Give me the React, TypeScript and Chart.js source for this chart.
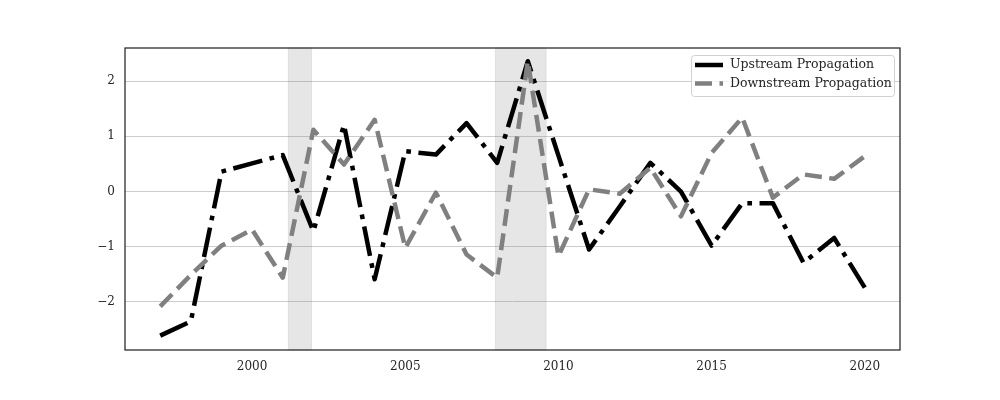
import React, { useEffect, useRef } from "react";
import { Chart, registerables } from "chart.js";

Chart.register(...registerables);

const years = [1997, 1998, 1999, 2000, 2001, 2002, 2003, 2004, 2005, 2006, 2007, 2008, 2009, 2010, 2011, 2012, 2013, 2014, 2015, 2016, 2017, 2018, 2019, 2020];
const upstream = [-2.61, -2.35, 0.36, 0.51, 0.66, -0.72, 1.21, -1.59, 0.73, 0.67, 1.24, 0.52, 2.36, 0.65, -1.05, -0.27, 0.52, 0.0, -0.98, -0.21, -0.21, -1.29, -0.84, -1.74];
const downstream = [-2.08, -1.51, -0.98, -0.69, -1.56, 1.12, 0.49, 1.30, -1.02, -0.02, -1.14, -1.56, 2.36, -1.17, 0.04, -0.04, 0.43, -0.45, 0.70, 1.34, -0.11, 0.31, 0.23, 0.64];
const seriesLabels = ["Upstream Propagation", "Downstream Propagation"];
const recessions = [
  [2001.18, 2001.94],
  [2007.94, 2009.6],
];
const xTicks = [2000, 2005, 2010, 2015, 2020];
const yTicks = [-2, -1, 0, 1, 2];

const FONT = "'DejaVu Serif', serif";
const TEXT = "#262626";
const UP_DASH = [30, 7.5, 4.7, 7.5];
const DOWN_DASH = [17, 7.5];

const shadePlugin = {
  id: "shade",
  beforeDatasetsDraw(chart: any) {
    const { ctx, chartArea, scales } = chart;
    ctx.save();
    for (const [a, b] of recessions) {
      const x0 = scales.x.getPixelForValue(a);
      const x1 = scales.x.getPixelForValue(b);
      ctx.fillStyle = "rgba(128,128,128,0.2)";
      ctx.fillRect(x0, chartArea.top, x1 - x0, chartArea.bottom - chartArea.top);
      ctx.strokeStyle = "rgba(128,128,128,0.15)";
      ctx.lineWidth = 1;
      ctx.strokeRect(x0, chartArea.top, x1 - x0, chartArea.bottom - chartArea.top);
    }
    ctx.restore();
  },
};

const framePlugin = {
  id: "frame",
  afterDraw(chart: any) {
    const { ctx, chartArea } = chart;
    ctx.save();
    ctx.strokeStyle = TEXT;
    ctx.lineWidth = 1.25;
    ctx.strokeRect(chartArea.left, chartArea.top, chartArea.right - chartArea.left, chartArea.bottom - chartArea.top);

    // legend
    const bx = 691, by = 55, bw = 203, bh = 41;
    ctx.fillStyle = "rgba(255,255,255,0.8)";
    ctx.strokeStyle = "rgba(204,204,204,0.9)";
    ctx.lineWidth = 1;
    ctx.beginPath();
    (ctx as any).roundRect(bx + 0.5, by + 0.5, bw, bh, 3);
    ctx.fill();
    ctx.stroke();

    const rows = [
      { y: 65, color: "#000000", dash: UP_DASH, label: seriesLabels[0] },
      { y: 83.5, color: "#808080", dash: DOWN_DASH, label: seriesLabels[1] },
    ];
    for (const r of rows) {
      ctx.beginPath();
      ctx.setLineDash(r.dash);
      ctx.lineCap = "butt";
      ctx.lineWidth = 4.5;
      ctx.strokeStyle = r.color;
      ctx.moveTo(695, r.y);
      ctx.lineTo(723, r.y);
      ctx.stroke();
      ctx.setLineDash([]);
      ctx.fillStyle = TEXT;
      ctx.font = `12.5px ${FONT}`;
      ctx.textBaseline = "middle";
      ctx.textAlign = "left";
      ctx.fillText(r.label, 730, r.y);
    }
    ctx.restore();
  },
};

export default function App() {
  const ref = useRef<HTMLCanvasElement>(null);
  useEffect(() => {
    if (!ref.current) return;
    const chart = new Chart(ref.current, {
      type: "line",
      data: {
        datasets: [
          {
            label: seriesLabels[0],
            data: years.map((y, i) => ({ x: y, y: upstream[i] })),
            borderColor: "#000000",
            borderWidth: 4.5,
            borderDash: UP_DASH,
            borderCapStyle: "butt",
            borderJoinStyle: "round",
            pointRadius: 0,
            fill: false,
            tension: 0,
            order: 1,
          },
          {
            label: seriesLabels[1],
            data: years.map((y, i) => ({ x: y, y: downstream[i] })),
            borderColor: "#808080",
            borderWidth: 4.5,
            borderDash: DOWN_DASH,
            borderCapStyle: "butt",
            borderJoinStyle: "round",
            pointRadius: 0,
            fill: false,
            tension: 0,
            order: 0,
          },
        ],
      },
      options: {
        responsive: false,
        animation: false,
        devicePixelRatio: 1,
        layout: { padding: { left: 0, top: 48, right: 100, bottom: 0 } },
        plugins: { legend: { display: false }, tooltip: { enabled: false } },
        scales: {
          x: {
            type: "linear",
            min: 1995.85,
            max: 2021.15,
            grid: { display: false, drawTicks: false },
            border: { display: false },
            afterBuildTicks: (s: any) => {
              s.ticks = xTicks.map((v) => ({ value: v }));
            },
            afterFit: (s: any) => {
              s.height = 50;
            },
            ticks: {
              padding: 10,
              maxRotation: 0,
              color: TEXT,
              font: { family: FONT, size: 12 },
              callback: (v: any) => String(v),
            },
          },
          y: {
            type: "linear",
            min: -2.87,
            max: 2.6,
            grid: { display: true, color: "#cccccc", lineWidth: 1, drawTicks: false },
            border: { display: false },
            afterBuildTicks: (s: any) => {
              s.ticks = yTicks.map((v) => ({ value: v }));
            },
            afterFit: (s: any) => {
              s.width = 125;
            },
            ticks: {
              padding: 10,
              color: TEXT,
              font: { family: FONT, size: 12 },
              callback: (v: any) => (v < 0 ? "\u2212" + Math.abs(v) : String(v)),
            },
          },
        },
      },
      plugins: [shadePlugin, framePlugin],
    });
    return () => chart.destroy();
  }, []);
  return (
    <div style={{ position: "absolute", left: 0, top: 0, width: 1000, height: 400, background: "#fff" }}>
      <canvas ref={ref} width={1000} height={400} />
    </div>
  );
}
